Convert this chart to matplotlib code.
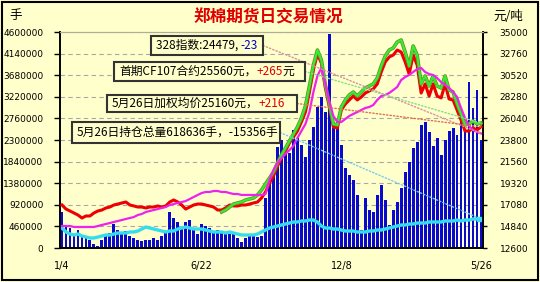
import matplotlib
matplotlib.use('Agg')
import matplotlib.pyplot as plt
import matplotlib.patheffects as pe
from matplotlib.patches import Rectangle
from matplotlib.ticker import FuncFormatter
import numpy as np

plt.rcParams['font.family'] = ['Noto Sans CJK SC', 'DejaVu Sans']

# ---------------- data ----------------
x_labels = ['1/4', '6/22', '12/8', '5/26']
x_label_pos = [0, 35, 70, 105]

# daily volume, unit: 万手 (left axis)
volume_wan = [77, 47, 43, 30, 38, 26, 21, 17, 9, 4,
              17, 30, 32, 51, 38, 34, 36, 26, 21, 17,
              15, 17, 17, 21, 17, 26, 32, 77, 64, 55,
              43, 55, 60, 38, 30, 51, 47, 43, 34, 38,
              32, 34, 30, 32, 21, 13, 21, 26, 26, 23,
              26, 106, 145, 155, 215, 230, 209, 202, 251, 234,
              219, 194, 230, 258, 300, 322, 290, 456, 256, 262,
              219, 170, 155, 145, 113, 38, 106, 81, 77, 113,
              134, 102, 49, 81, 98, 128, 162, 183, 213, 226,
              262, 268, 247, 217, 234, 198, 230, 249, 256, 241,
              290, 251, 354, 298, 336, 230]

# open interest, unit: 手 (left axis)
open_interest = [425900, 340700, 298100, 276800, 298100, 255600, 234300, 213000, 213000, 234300,
                 255600, 276800, 276800, 298100, 319400, 319400, 319400, 340700, 340700, 362000,
                 404600, 447200, 425900, 404600, 383300, 362000, 340700, 362000, 362000, 404600,
                 425900, 447200, 425900, 404600, 404600, 404600, 383300, 362000, 340700, 340700,
                 340700, 319400, 340700, 319400, 298100, 276800, 276800, 276800, 276800, 298100,
                 340700, 383300, 425900, 447200, 468500, 489800, 511100, 532400, 553700, 553700,
                 575000, 575000, 596300, 596300, 553700, 468500, 425900, 425900, 404600, 404600,
                 383300, 362000, 362000, 362000, 340700, 340700, 340700, 362000, 362000, 383300,
                 383300, 404600, 425900, 447200, 468500, 489800, 489800, 511100, 511100, 532400,
                 532400, 532400, 553700, 553700, 553700, 553700, 575000, 575000, 575000, 596300,
                 575000, 596300, 596300, 617600, 617600, 618636]

# weighted average price, 元/吨 (right axis)
avg_price = [17060, 16640, 16440, 16230, 16020, 15710, 15920, 15920, 16230, 16440,
             16540, 16750, 16850, 17060, 17160, 17270, 17370, 17060, 16960, 16850,
             16850, 16750, 16850, 16850, 16960, 16850, 16960, 17370, 17580, 17370,
             17060, 16640, 16850, 17060, 17160, 17160, 17060, 16960, 16850, 16540,
             16540, 16750, 17060, 16960, 16960, 17060, 17060, 17160, 17270, 17370,
             17790, 18410, 19340, 20070, 21100, 21930, 22660, 23490, 24110, 24730,
             25670, 26700, 28780, 31060, 32720, 31780, 29190, 27220, 25150, 25040,
             26910, 27530, 27950, 28360, 27950, 28260, 28670, 28880, 29090, 29610,
             30850, 31890, 32410, 32610, 33130, 32920, 31890, 30640, 32610, 31580,
             28670, 29610, 28360, 29610, 28360, 28160, 29610, 28050, 27950, 26910,
             25870, 24730, 24730, 25040, 24840, 25160]

# CF107 contract (starts at point 40), 元/吨 (right axis)
cf107_start = 40
cf107 = [16330, 16540, 16850, 17160, 17270, 17370, 17580, 17680, 17790, 18100,
         18610, 19240, 19860, 20480, 21420, 22250, 22970, 23700, 24420, 25150,
         26080, 27330, 29400, 31580, 33130, 32100, 29500, 27530, 25460, 25360,
         27220, 27950, 28470, 28780, 28360, 28780, 29190, 29400, 29610, 30230,
         31470, 32510, 33130, 33340, 33960, 34170, 32920, 31470, 33550, 32610,
         29610, 30440, 29400, 30440, 29400, 29190, 30440, 28980, 28780, 27530,
         26500, 25360, 25460, 25770, 25460, 25560]

# 328 index, 元/吨 (right axis)
index328 = [14880, 14880, 14880, 14780, 14780, 14780, 14780, 14780, 14780, 14880,
            14990, 15090, 15190, 15300, 15400, 15500, 15610, 15710, 15810, 16020,
            16130, 16330, 16440, 16540, 16640, 16750, 16850, 17060, 17160, 17270,
            17370, 17470, 17680, 17890, 18100, 18300, 18410, 18410, 18510, 18510,
            18410, 18410, 18300, 18200, 18200, 18100, 18100, 18100, 18100, 18100,
            18100, 18200, 19650, 20690, 21410, 21930, 22350, 22760, 23180, 24010,
            24730, 25460, 26700, 28780, 30440, 31270, 29610, 27740, 26290, 25670,
            25670, 25980, 26290, 26500, 26700, 26910, 27120, 27220, 27430, 27950,
            28360, 28470, 28670, 28980, 29300, 30020, 30330, 30540, 30850, 31160,
            31270, 30850, 30640, 30540, 30230, 29810, 29500, 29190, 28780, 28260,
            27120, 26080, 25250, 24840, 24630, 24479]

box_texts = [
    [('328指数:24479, ', 'black'), ('-23', '#0000CC')],
    [('首期CF107合约25560元，', 'black'), ('+265', '#E00000'), ('元', 'black')],
    [('5月26日加权均价25160元，', 'black'), ('+216', '#E00000')],
    [('5月26日持仓总量618636手，-15356手', 'black')],
]

# ---------------- figure ----------------
W, H = 540, 282
BG = '#FFFFCC'
fig = plt.figure(figsize=(W / 100, H / 100), dpi=100, facecolor=BG)
ax = fig.add_axes([60 / W, 1 - 248 / H, (483 - 60) / W, (248 - 32) / H])
ax.set_facecolor(BG)

n = len(volume_wan)
x = np.arange(n)
vol = np.array(volume_wan) * 10000

ax.bar(x, vol, width=0.72, color='#0A0ACD', zorder=2)
ax.plot(x, open_interest, color='#33DDEE', lw=2.4, zorder=3, solid_capstyle='round')
ax.set_ylim(0, 4600000)
ax.set_yticks(np.arange(0, 4600001, 460000))
ax.yaxis.set_major_formatter(FuncFormatter(lambda v, p: f'{int(round(v))}'))
ax.set_xlim(-0.5, n - 0.5)
ax.set_xticks(x_label_pos)
ax.set_xticklabels(x_labels)
ax.set_axisbelow(True)
ax.grid(axis='y', linestyle=(0, (4, 3)), color='#A8A8A8', lw=0.8)
ax.tick_params(axis='y', direction='out', length=4, width=1, pad=8, labelsize=6.5,
               colors='black', labelfontfamily='DejaVu Sans')
ax.tick_params(axis='x', length=0, pad=9, labelsize=7, labelfontfamily='DejaVu Sans')

ax2 = ax.twinx()
ax2.set_ylim(12600, 35000)
ax2.set_yticks(np.arange(12600, 35001, 2240))
ax2.yaxis.set_major_formatter(FuncFormatter(lambda v, p: f'{int(round(v))}'))
ax2.tick_params(axis='y', direction='out', length=3, width=1, pad=9, labelsize=6.5,
                colors='black', labelfontfamily='DejaVu Sans')

ax2.plot(x, avg_price, color='#EE0000', lw=2.2, zorder=3)
ax2.plot(x[cf107_start:], cf107, color='#33EE33', lw=1.5, zorder=4,
         path_effects=[pe.Stroke(linewidth=2.6, foreground='#6A9020'), pe.Normal()])
ax2.plot(x, index328, color='#EE22EE', lw=1.6, zorder=5)

for a in (ax, ax2):
    a.spines['top'].set_color('#B0B098')
    for s in ('left', 'bottom', 'right'):
        a.spines[s].set_color('black')
        a.spines[s].set_linewidth(1.2)

# titles
fig.text(268 / W, 1 - 17 / H, '郑棉期货日交易情况', color='#E00000', fontsize=12,
         fontweight='bold', ha='center', va='center')
fig.text(16 / W, 1 - 16 / H, '手', fontsize=9, ha='center', va='center')
fig.text(508 / W, 1 - 16 / H, '元/吨', fontsize=9, ha='center', va='center')

# annotation boxes (pixel extents)
boxes = [(151, 36, 263, 55), (114, 62, 305, 81), (107, 95, 297, 112), (72, 122, 280, 143)]
targets = [(ax2.transData, index328[-1], '#D9909A'),
           (ax2.transData, cf107[-1], '#88DD88'),
           (ax2.transData, avg_price[-1], '#E07050'),
           (ax.transData, open_interest[-1], '#77CCEE')]

for (x0, y0, x1, y1), (trans, yv, lc) in zip(boxes, targets):
    ax2.annotate('', xy=(n - 1, yv), xycoords=trans,
                 xytext=(x1 / W, 1 - (y0 + y1) / 2 / H), textcoords='figure fraction',
                 arrowprops=dict(arrowstyle='-', linestyle=(0, (1, 1.5)), color=lc, lw=1.0,
                                 shrinkA=0, shrinkB=0),
                 zorder=6, annotation_clip=False)
ax.plot([n - 1.6], [open_interest[-1]], marker='s', ms=3, color='#33DDEE', zorder=4, clip_on=False)

for (x0, y0, x1, y1), parts in zip(boxes, box_texts):
    ax2.add_patch(Rectangle((x0 / W, 1 - y1 / H), (x1 - x0) / W, (y1 - y0) / H,
                            transform=fig.transFigure, facecolor=BG, edgecolor='#333333',
                            lw=1.5, zorder=10, clip_on=False))
    t = ax2.text((x0 + 5) / W, 1 - (y0 + y1) / 2 / H, parts[0][0], color=parts[0][1],
                 fontsize=8.5, ha='left', va='center', transform=fig.transFigure,
                 zorder=11, clip_on=False)
    for s, c in parts[1:]:
        t = ax2.annotate(s, xy=(1, 0), xycoords=t, ha='left', va='bottom', color=c,
                         fontsize=8.5, zorder=11, annotation_clip=False)

# outer frame
fig.add_artist(Rectangle((1.5 / W, 2.5 / H), (536 / W), (278 / H), transform=fig.transFigure,
                         fill=False, edgecolor='black', lw=1.5))

fig.savefig('out.png', dpi=100, facecolor=BG)
